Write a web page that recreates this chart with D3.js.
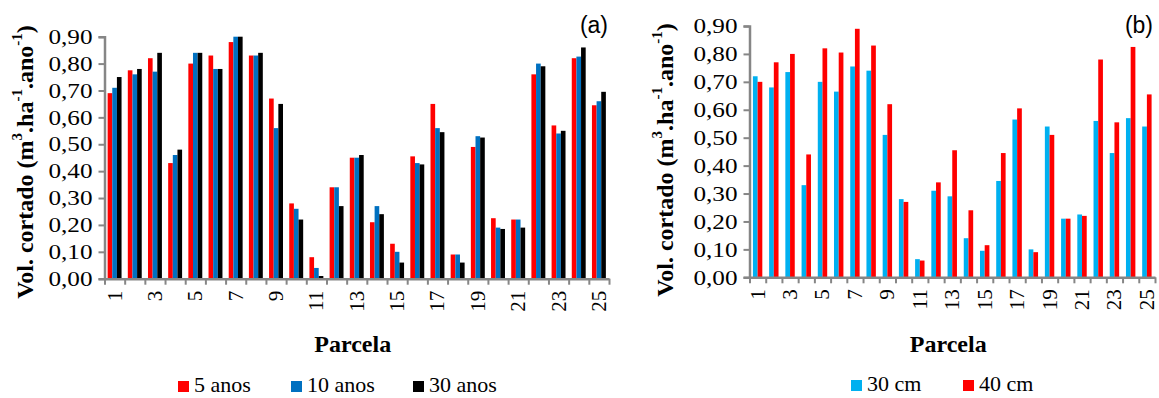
<!DOCTYPE html>
<html>
<head>
<meta charset="utf-8">
<script src="https://cdn.jsdelivr.net/npm/d3@7"></script>
<style>
  html, body { margin: 0; padding: 0; background: #fff; }
  svg { display: block; }
  text { font-family: 'Liberation Serif', 'Times New Roman', serif; }
</style>
</head>
<body>
<svg id="chart" width="1159" height="398"></svg>
<script>
// parcelas 1..25
const parcelas = d3.range(1, 26).map(String);

// (a) volume cortado por idade
const anos5  = [0.69, 0.775, 0.82, 0.43, 0.80, 0.83, 0.88, 0.83, 0.67, 0.28, 0.08, 0.34, 0.45, 0.21, 0.13, 0.455, 0.65, 0.09, 0.49, 0.225, 0.22, 0.76, 0.57, 0.82, 0.645];
const anos10 = [0.71, 0.76, 0.77, 0.46, 0.84, 0.78, 0.90, 0.83, 0.56, 0.26, 0.04, 0.34, 0.45, 0.27, 0.10, 0.43, 0.56, 0.09, 0.53, 0.19, 0.22, 0.80, 0.54, 0.826, 0.66];
const anos30 = [0.75, 0.78, 0.84, 0.48, 0.84, 0.78, 0.90, 0.84, 0.65, 0.22, 0.01, 0.27, 0.46, 0.24, 0.06, 0.425, 0.545, 0.06, 0.525, 0.185, 0.19, 0.79, 0.55, 0.86, 0.695];

// (b) volume cortado por profundidade
const cm30 = [0.72, 0.68, 0.735, 0.33, 0.70, 0.665, 0.755, 0.74, 0.51, 0.28, 0.065, 0.31, 0.29, 0.14, 0.095, 0.345, 0.565, 0.10, 0.54, 0.21, 0.225, 0.56, 0.445, 0.57, 0.54];
const cm40 = [0.70, 0.77, 0.80, 0.44, 0.82, 0.805, 0.89, 0.83, 0.62, 0.27, 0.06, 0.34, 0.455, 0.24, 0.115, 0.445, 0.605, 0.09, 0.51, 0.21, 0.22, 0.78, 0.555, 0.825, 0.655];

const yTicks = d3.range(0, 0.91, 0.1);
const axisColor = "#868686";
const serif = "'Liberation Serif', 'Times New Roman', serif";
const fmt = d => d3.format(".2f")(d).replace(".", ",");

const svg = d3.select("#chart");

function panel(opt) {
  const g = svg.append("g");
  const n = parcelas.length;

  const x = d3.scaleBand()
    .domain(parcelas)
    .range([opt.x0, opt.x1])
    .paddingInner(opt.pad)
    .paddingOuter(opt.pad / 2);

  const xs = d3.scaleBand()
    .domain(opt.series.map(s => s.name))
    .range([0, x.bandwidth()]);

  const y = d3.scaleLinear().domain([0, 0.9]).range([opt.y0, opt.y1]);

  // bars
  opt.series.forEach(s => {
    g.append("g").selectAll("rect")
      .data(s.values)
      .join("rect")
      .attr("x", (d, i) => x(parcelas[i]) + xs(s.name))
      .attr("y", d => y(d))
      .attr("width", xs.bandwidth())
      .attr("height", d => y(0) - y(d))
      .attr("fill", s.color);
  });

  // y axis
  const yAxis = d3.axisLeft(y).tickValues(yTicks).tickFormat(fmt).tickSizeOuter(0).tickSize(6).tickPadding(4);
  const gy = g.append("g").attr("transform", `translate(${opt.x0},0)`).call(yAxis);
  gy.attr("font-family", serif);
  gy.select(".domain").attr("stroke", axisColor).attr("stroke-width", 2.5);
  gy.selectAll(".tick line").attr("stroke", axisColor).attr("stroke-width", 2);
  gy.selectAll(".tick text")
    .attr("fill", "#000")
    .attr("transform", "scale(1.2,1)")
    .style("font-family", serif)
    .style("font-size", "21px");

  // x axis: ticks at category edges
  const xl = d3.scaleLinear().domain([0, n]).range([opt.x0, opt.x1]);
  const xAxis = d3.axisBottom(xl).tickValues(d3.range(0, n + 1)).tickFormat("").tickSize(6).tickSizeOuter(0);
  const gx = g.append("g").attr("transform", `translate(0,${opt.y0})`).call(xAxis);
  gx.select(".domain").attr("stroke", axisColor).attr("stroke-width", 2.5);
  gx.selectAll(".tick line").attr("stroke", axisColor).attr("stroke-width", 2);

  // x labels (odd parcels), rotated
  g.append("g").selectAll("text")
    .data(parcelas.filter((p, i) => i % 2 === 0))
    .join("text")
    .attr("transform", d => `translate(${x(d) + x.bandwidth() / 2},${opt.y0 + 12}) rotate(-90)`)
    .attr("text-anchor", "end")
    .attr("dominant-baseline", "central")
    .style("font-family", serif)
    .style("font-size", "21px")
    .text(d => d);

  // y title
  const yt = g.append("text")
    .attr("transform", `translate(${opt.ytx},${opt.yty}) rotate(-90)`)
    .attr("text-anchor", "middle")
    .attr("dominant-baseline", "central")
    .style("font-family", serif)
    .style("font-weight", "bold")
    .style("font-size", "24px");
  yt.append("tspan").text("Vol. cortado (m");
  yt.append("tspan").attr("baseline-shift", "super").style("font-size", "15px").text("3");
  yt.append("tspan").text(".ha");
  yt.append("tspan").attr("baseline-shift", "super").style("font-size", "15px").text("-1");
  yt.append("tspan").text(".ano");
  yt.append("tspan").attr("baseline-shift", "super").style("font-size", "15px").text("-1");
  yt.append("tspan").text(")");

  // x title
  g.append("text")
    .attr("x", (opt.x0 + opt.x1) / 2 - 4)
    .attr("y", 352)
    .attr("text-anchor", "middle")
    .style("font-family", serif)
    .style("font-weight", "bold")
    .style("font-size", "24px")
    .text("Parcela");

  // panel letter
  g.append("text")
    .attr("x", opt.letterX)
    .attr("y", 33)
    .attr("text-anchor", "end")
    .style("font-family", "'Liberation Sans', Arial, sans-serif")
    .style("font-size", "23px")
    .text(opt.letter);

  // legend
  const lg = g.append("g");
  opt.series.forEach((s, i) => {
    const lx = opt.legendX[i];
    lg.append("rect")
      .attr("x", lx).attr("y", opt.legendY - 11)
      .attr("width", 11).attr("height", 11)
      .attr("fill", s.color);
    lg.append("text")
      .attr("x", lx + 16).attr("y", opt.legendY)
      .style("font-family", serif)
      .style("font-size", "22px")
      .text(s.name);
  });
}

panel({
  x0: 104.5, x1: 609, y0: 278.7, y1: 36.7, pad: 0.31,
  series: [
    { name: "5 anos", values: anos5, color: "#ff0000" },
    { name: "10 anos", values: anos10, color: "#0070c0" },
    { name: "30 anos", values: anos30, color: "#000000" }
  ],
  ytx: 25, yty: 162,
  letter: "(a)", letterX: 608,
  legendX: [178, 291, 413], legendY: 392
});

panel({
  x0: 749.5, x1: 1155, y0: 277.3, y1: 26, pad: 0.42,
  series: [
    { name: "30 cm", values: cm30, color: "#00b0f0" },
    { name: "40 cm", values: cm40, color: "#ff0000" }
  ],
  ytx: 665, yty: 160,
  letter: "(b)", letterX: 1153,
  legendX: [851, 963], legendY: 391
});
</script>
</body>
</html>
